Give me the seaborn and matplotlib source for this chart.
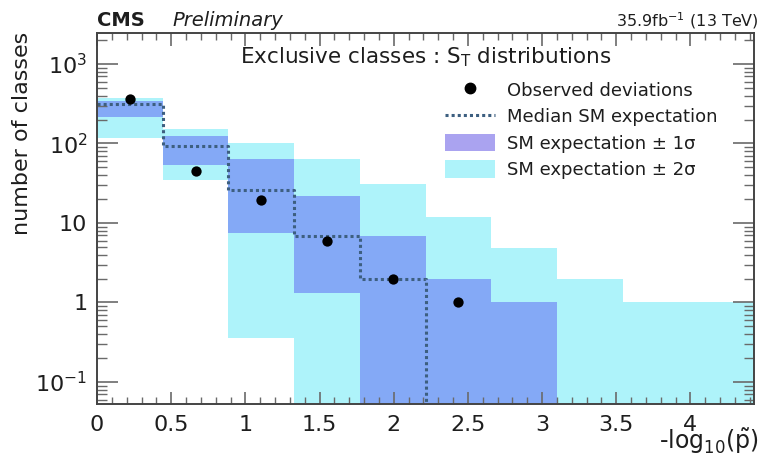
import numpy as np
import pandas as pd
import matplotlib
matplotlib.use("Agg")
import matplotlib.pyplot as plt
import seaborn as sns
from matplotlib.patches import Patch
from matplotlib.lines import Line2D
from matplotlib.ticker import FixedLocator, FuncFormatter, MultipleLocator, LogLocator, NullFormatter

# ---------------- data ----------------
bin_edges = [0.0, 0.443, 0.886, 1.329, 1.772, 2.215, 2.658, 3.101, 3.544, 3.987, 4.43]
observed = [359, 44.7, 19.7, 5.9, 2.0, 1.0, 0, 0, 0, 0]
median = [310, 92, 26, 6.9, 2.0, 0, 0, 0, 0, 0]
sig1_lo = [215, 54, 7.5, 1.3, 0, 0, 0, 0, 0, 0]
sig1_hi = [341, 126, 63, 22, 6.9, 2.0, 1.0, 0, 0, 0]
sig2_lo = [118, 35, 0.36, 0, 0, 0, 0, 0, 0, 0]
sig2_hi = [377, 153, 102, 63, 31, 11.8, 4.9, 2.0, 1.0, 1.0]

x_ticks = [0, 0.5, 1, 1.5, 2, 2.5, 3, 3.5, 4]
x_tick_labels = ["0", "0.5", "1", "1.5", "2", "2.5", "3", "3.5", "4"]
y_ticks = [0.1, 1, 10, 100, 1000]
y_tick_labels = [r"10$^{-1}$", "1", "10", r"10$^{2}$", r"10$^{3}$"]

title_text = "Exclusive classes : S$_{\\mathregular{T}}$ distributions"
legend_labels = ["Observed deviations", "Median SM expectation",
                 "SM expectation \u00b1 1\u03c3", "SM expectation \u00b1 2\u03c3"]

# ---------------- style ----------------
sns.set_theme(style="ticks")
plt.rcParams["font.family"] = ["DejaVu Sans"]
plt.rcParams["mathtext.fontset"] = "dejavusans"
plt.rcParams["mathtext.default"] = "regular"

c_2sig = "#aef3fa"
c_1sig = "#84a9f6"
c_1sig_leg = "#aaa3f0"
c_med = "#3d5f80"
c_text = "#1e1e1e"

fig = plt.figure(figsize=(7.61, 4.59), dpi=100)
ax = fig.add_axes([0.1275, 0.120, 0.8635, 0.808])
ax.set_yscale("log")
ymin, ymax = 0.053, 2450
ax.set_xlim(bin_edges[0], bin_edges[-1])
ax.set_ylim(ymin, ymax)
ax.set_axisbelow(False)

edges = np.array(bin_edges)
left = edges[:-1]
width = np.diff(edges)
centers = left + width / 2

def clipped(v):
    return np.clip(np.array(v, dtype=float), ymin * 0.5, None)

lo2, hi2 = clipped(sig2_lo), np.array(sig2_hi, dtype=float)
lo1, hi1 = clipped(sig1_lo), np.array(sig1_hi, dtype=float)
m2 = hi2 > 0
ax.bar(left[m2], (hi2 - lo2)[m2], bottom=lo2[m2], width=width[m2], align="edge",
       color=c_2sig, linewidth=0, zorder=1)
m1 = hi1 > 0
ax.bar(left[m1], (hi1 - lo1)[m1], bottom=lo1[m1], width=width[m1], align="edge",
       color=c_1sig, linewidth=0, zorder=2)

# median step line
med = clipped(median)
step_df = pd.DataFrame({"x": np.append(edges[:-1], edges[-1]),
                        "y": np.append(med, med[-1])})
n_nonzero = int(np.sum(np.array(median) > 0))
step_df = step_df.iloc[: n_nonzero + 1]
sns.lineplot(data=step_df, x="x", y="y", ax=ax, drawstyle="steps-post",
             color=c_med, linestyle=(0, (1, 1)), linewidth=2.2, zorder=3,
             estimator=None, sort=False)

# observed points
obs_df = pd.DataFrame({"x": centers, "y": observed})
obs_df = obs_df[obs_df["y"] > 0]
sns.scatterplot(data=obs_df, x="x", y="y", ax=ax, color="black", s=55,
                edgecolor="black", linewidth=0, zorder=4)

# ---------------- axes styling ----------------
ax.set_xlabel("")
ax.set_ylabel("")
ax.xaxis.set_major_locator(FixedLocator(x_ticks))
ax.xaxis.set_major_formatter(FuncFormatter(
    lambda v, p: x_tick_labels[x_ticks.index(round(v, 1))] if round(v, 1) in x_ticks else ""))
ax.xaxis.set_minor_locator(MultipleLocator(0.1))
ax.yaxis.set_major_locator(FixedLocator(y_ticks))
ax.yaxis.set_major_formatter(FuncFormatter(
    lambda v, p: y_tick_labels[int(round(np.log10(v))) + 1]))
ax.yaxis.set_minor_locator(LogLocator(base=10, subs=np.arange(2, 10)))
ax.yaxis.set_minor_formatter(NullFormatter())
ax.tick_params(axis="both", which="both", direction="in", top=True, right=True,
               colors="#6a6a6a", labelcolor=c_text)
ax.tick_params(axis="both", which="major", width=1.2, labelsize=16)
ax.tick_params(axis="x", which="major", length=9, pad=8)
ax.tick_params(axis="y", which="major", length=15, pad=7)
ax.tick_params(axis="y", which="minor", length=7, width=1.0)
ax.tick_params(axis="x", which="minor", length=5, width=1.0)
for s in ax.spines.values():
    s.set_color("#444444")
    s.set_linewidth(1.4)
    s.set_zorder(6)

fig.text(0.016, 0.93, "number of classes", rotation=90, ha="left", va="top",
         fontsize=16, color=c_text)
fig.text(0.997, 0.021, r"-log$_{10}$($\tilde{\mathregular{p}}$)", ha="right",
         va="baseline", fontsize=17, color=c_text)
fig.text(0.1275, 0.943, "CMS", ha="left", va="baseline", fontsize=14,
         fontweight="bold", color=c_text)
fig.text(0.226, 0.943, "Preliminary", ha="left", va="baseline", fontsize=14,
         style="italic", color=c_text)
fig.text(0.997, 0.943, r"35.9fb$^{-1}$ (13 TeV)", ha="right", va="baseline",
         fontsize=11.5, color=c_text)
ax.text(0.5, 0.935, title_text, transform=ax.transAxes, ha="center", va="center",
        fontsize=15.5, color=c_text)

handles = [
    Line2D([], [], marker="o", color="black", linestyle="none", markersize=7.5),
    Line2D([], [], color=c_med, linestyle=(0, (1, 1)), linewidth=2.2),
    Patch(facecolor=c_1sig_leg, edgecolor="none"),
    Patch(facecolor=c_2sig, edgecolor="none"),
]
leg = ax.legend(handles, legend_labels, loc="upper left", bbox_to_anchor=(0.518, 0.89),
                frameon=False, fontsize=13, handlelength=2.8, handleheight=1.1,
                handletextpad=0.65, labelspacing=0.42, borderaxespad=0, numpoints=1)
for t in leg.get_texts():
    t.set_color(c_text)

fig.savefig("out.png", dpi=100)
